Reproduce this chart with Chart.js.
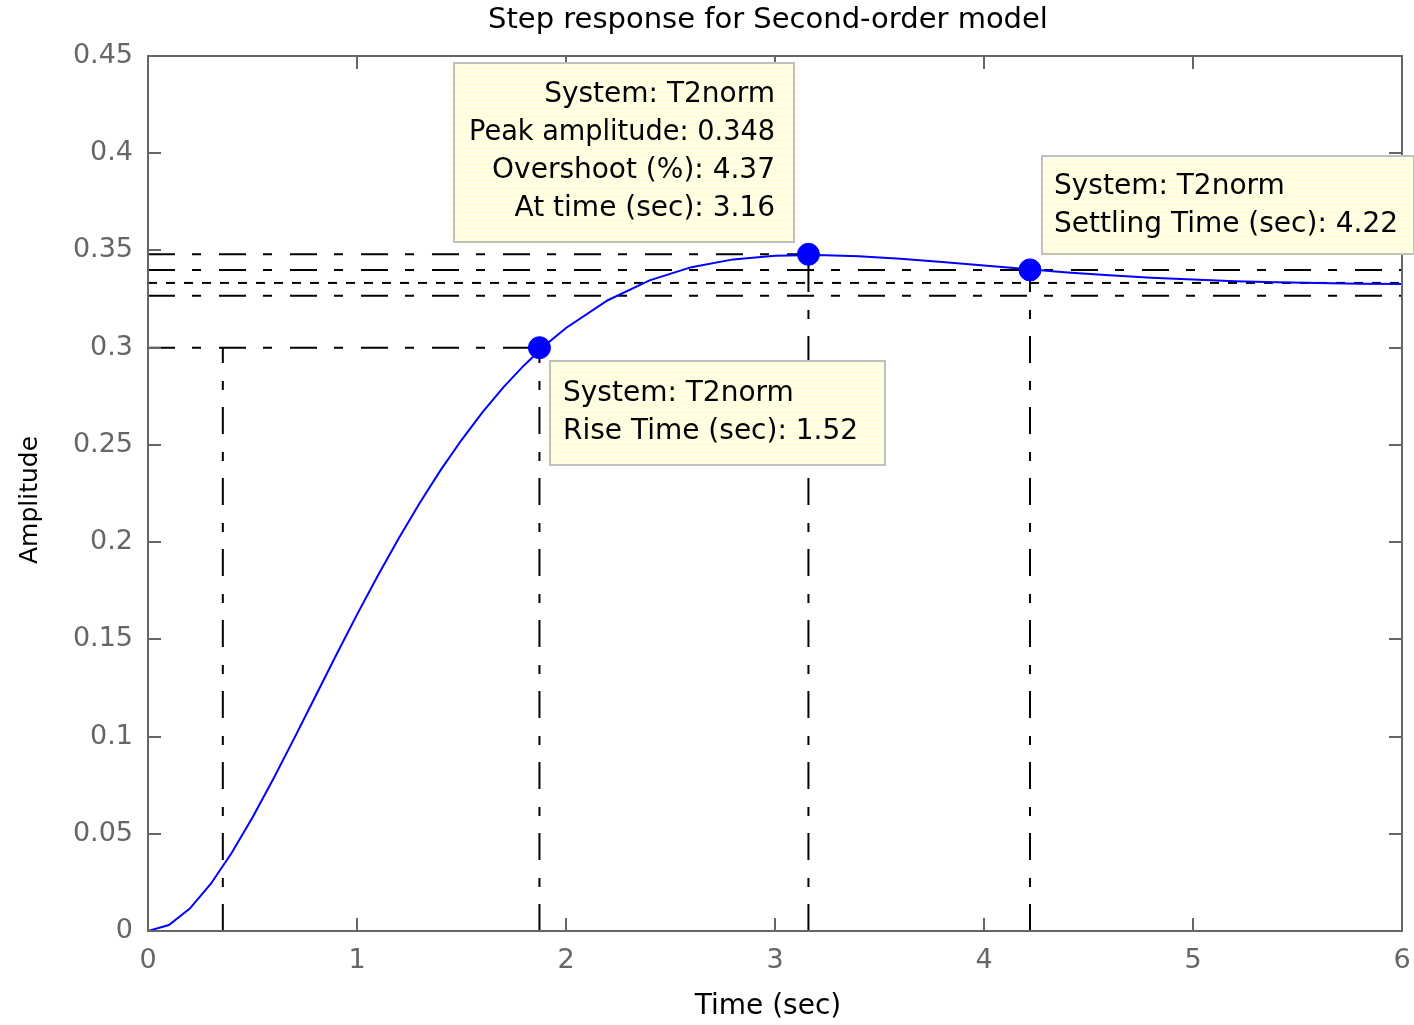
<!DOCTYPE html>
<html>
<head>
<meta charset="utf-8">
<title>Step response for Second-order model</title>
<script src="https://cdn.jsdelivr.net/npm/chart.js@4.4.0/dist/chart.umd.min.js"></script>
<style>
  html, body { margin: 0; padding: 0; background: #fff; }
  #stepChart { display: block; }
</style>
</head>
<body>
<canvas id="stepChart" width="1414" height="1025"></canvas>
<script>
// ---------- DATA ----------

// step response of T2norm
var timeSec = [0, 0.1, 0.2, 0.3, 0.4, 0.5, 0.6, 0.7, 0.8, 0.9, 1.0, 1.1, 1.2, 1.3, 1.4, 1.5, 1.6, 1.7, 1.8, 1.9,
  2.0, 2.2, 2.4, 2.6, 2.8, 3.0, 3.2, 3.4, 3.6, 3.8, 4.0, 4.2, 4.4, 4.6, 4.8, 5.0, 5.2, 5.4, 5.6, 5.8, 6.0];
var amplitude = [0, 0.0031, 0.0115, 0.0242, 0.0401, 0.0584, 0.0783, 0.0992, 0.1205, 0.1418, 0.1627, 0.1828, 0.2020,
  0.2201, 0.2370, 0.2525, 0.2667, 0.2796, 0.2910, 0.3012, 0.3101, 0.3244, 0.3346, 0.3414, 0.3454, 0.3473, 0.3477,
  0.3470, 0.3457, 0.3440, 0.3422, 0.3404, 0.3387, 0.3372, 0.3360, 0.3350, 0.3342, 0.3336, 0.3332, 0.3329, 0.3328];

// characteristic points: rise end, peak, settling
var markerTimes = [1.873, 3.16, 4.22];
var markerAmps = [0.3, 0.348, 0.34];

var riseStart = 0.358;        // 10% crossing
var finalValue = 0.3333;      // steady state
var settleBand = [0.3267, 0.34];

var xTicks = [0, 1, 2, 3, 4, 5, 6];
var xTickLabels = ['0', '1', '2', '3', '4', '5', '6'];
var yTicks = [0, 0.05, 0.1, 0.15, 0.2, 0.25, 0.3, 0.35, 0.4, 0.45];
var yTickLabels = ['0', '0.05', '0.1', '0.15', '0.2', '0.25', '0.3', '0.35', '0.4', '0.45'];

// ---------- STYLE ----------

var axisColor = '#666666';
var fontName = '"DejaVu Sans", Verdana, sans-serif';
var dashDot = [27, 17, 9, 18];

Chart.defaults.font.family = fontName;
Chart.defaults.font.size = 27;

function seg(x1, y1, x2, y2, dash) {
  return {
    type: 'line',
    data: [{ x: x1, y: y1 }, { x: x2, y: y2 }],
    borderColor: '#000000',
    borderWidth: 2,
    borderDash: dash,
    pointRadius: 0,
    fill: false
  };
}

var responsePoints = timeSec.map(function(t, i) { return { x: t, y: amplitude[i] }; });
var markerPoints = markerTimes.map(function(t, i) { return { x: t, y: markerAmps[i] }; });

var datasets = [
  {
    // markers drawn on top (first dataset is painted last)
    type: 'scatter',
    data: markerPoints,
    pointRadius: 11,
    pointBackgroundColor: '#0000ff',
    pointBorderColor: '#0000ff',
    showLine: false
  },
  {
    type: 'line',
    data: responsePoints,
    borderColor: '#0000ff',
    borderWidth: 2,
    pointRadius: 0,
    tension: 0,
    fill: false
  },
  // rise time
  seg(0, markerAmps[0], markerTimes[0], markerAmps[0], dashDot),
  seg(riseStart, 0, riseStart, markerAmps[0], dashDot),
  seg(markerTimes[0], 0, markerTimes[0], markerAmps[0], dashDot),
  // peak
  seg(0, markerAmps[1], markerTimes[1], markerAmps[1], dashDot),
  seg(markerTimes[1], 0, markerTimes[1], markerAmps[1], dashDot),
  // settling band
  seg(0, settleBand[1], 6, settleBand[1], dashDot),
  seg(0, settleBand[0], 6, settleBand[0], dashDot),
  seg(markerTimes[2], 0, markerTimes[2], markerAmps[2], dashDot),
  // steady state
  seg(0, finalValue, 6, finalValue, [9, 9])
];

// ---------- PLUGINS ----------

// box round the axes with inward ticks on all four sides
var framePlugin = {
  id: 'frame',
  afterDatasetsDraw: function(chart) {
    var ctx = chart.ctx, a = chart.chartArea;
    var xs = chart.scales.x, ys = chart.scales.y;
    var tickLen = 13;
    ctx.save();
    ctx.strokeStyle = axisColor;
    ctx.lineWidth = 2;
    ctx.strokeRect(a.left, a.top, a.right - a.left, a.bottom - a.top);
    ctx.beginPath();
    xTicks.forEach(function(v) {
      var px = Math.round(xs.getPixelForValue(v));
      ctx.moveTo(px, a.bottom); ctx.lineTo(px, a.bottom - tickLen);
      ctx.moveTo(px, a.top); ctx.lineTo(px, a.top + tickLen);
    });
    yTicks.forEach(function(v) {
      var py = Math.round(ys.getPixelForValue(v));
      ctx.moveTo(a.left, py); ctx.lineTo(a.left + tickLen, py);
      ctx.moveTo(a.right, py); ctx.lineTo(a.right - tickLen, py);
    });
    ctx.stroke();
    ctx.restore();
  }
};

// data tips, placed relative to their marker
var tips = [
  { at: 1, dx: -354, dy: -191, w: 340, h: 179, align: 'right', pad: 19, first: 32,
    lines: ['System: T2norm', 'Peak amplitude: 0.348', 'Overshoot (%): 4.37', 'At time (sec): 3.16'] },
  { at: 2, dx: 12, dy: -114, w: 372, h: 98, align: 'left', pad: 12, first: 31,
    lines: ['System: T2norm', 'Settling Time (sec): 4.22'] },
  { at: 0, dx: 11, dy: 13, w: 335, h: 104, align: 'left', pad: 13, first: 33,
    lines: ['System: T2norm', 'Rise Time (sec): 1.52'] }
];

var tipPlugin = {
  id: 'tips',
  afterDraw: function(chart) {
    var ctx = chart.ctx;
    var xs = chart.scales.x, ys = chart.scales.y;
    var pc = document.createElement('canvas');
    pc.width = 2; pc.height = 2;
    var p = pc.getContext('2d');
    p.fillStyle = '#ffffff'; p.fillRect(0, 0, 2, 2);
    p.fillStyle = '#ffffc4'; p.fillRect(0, 0, 1, 1); p.fillRect(1, 1, 1, 1);
    var fillPat = ctx.createPattern(pc, 'repeat');

    ctx.save();
    tips.forEach(function(tip) {
      var mx = Math.round(xs.getPixelForValue(markerTimes[tip.at]));
      var my = Math.round(ys.getPixelForValue(markerAmps[tip.at]));
      var left = mx + tip.dx, top = my + tip.dy;
      ctx.fillStyle = fillPat;
      ctx.fillRect(left, top, tip.w, tip.h);
      ctx.strokeStyle = '#c0c0c0';
      ctx.lineWidth = 2;
      ctx.strokeRect(left, top, tip.w, tip.h);
      ctx.fillStyle = '#000000';
      ctx.font = '28px ' + fontName;
      ctx.textBaseline = 'middle';
      ctx.textAlign = tip.align;
      var tx = tip.align === 'right' ? left + tip.w - tip.pad : left + tip.pad;
      tip.lines.forEach(function(line, i) {
        ctx.fillText(line, tx, top + tip.first + i * 38, tip.w - 2 * tip.pad + 4);
      });
    });
    ctx.restore();
  }
};

// title and axis labels
var labelPlugin = {
  id: 'labels',
  afterDraw: function(chart) {
    var ctx = chart.ctx;
    ctx.save();
    ctx.fillStyle = '#000000';
    ctx.textAlign = 'center';
    ctx.textBaseline = 'middle';
    ctx.font = '29px ' + fontName;
    ctx.fillText('Step response for Second-order model', 768, 20);
    ctx.font = '28px ' + fontName;
    ctx.fillText('Time (sec)', 768, 1007);
    ctx.font = '25px ' + fontName;
    ctx.translate(30, 500);
    ctx.rotate(-Math.PI / 2);
    ctx.fillText('Amplitude', 0, 0);
    ctx.restore();
  }
};

// ---------- CHART ----------

var stepChart = new Chart(document.getElementById('stepChart'), {
  data: { datasets: datasets },
  options: {
    responsive: false,
    animation: false,
    layout: { padding: { top: 56, right: 6, left: 0, bottom: 0 } },
    plugins: {
      legend: { display: false },
      tooltip: { enabled: false },
      title: { display: false }
    },
    scales: {
      x: {
        type: 'linear',
        min: 0,
        max: 6,
        afterFit: function(s) { s.height = 94; s.paddingLeft = 0; s.paddingRight = 0; },
        afterBuildTicks: function(s) { s.ticks = xTicks.map(function(v) { return { value: v }; }); },
        grid: { display: false, drawTicks: false },
        border: { display: false },
        ticks: {
          color: axisColor,
          padding: 14,
          maxRotation: 0,
          callback: function(v, i) { return xTickLabels[i]; }
        }
      },
      y: {
        type: 'linear',
        min: 0,
        max: 0.45,
        afterFit: function(s) { s.width = 148; s.paddingTop = 0; s.paddingBottom = 0; },
        afterBuildTicks: function(s) { s.ticks = yTicks.map(function(v) { return { value: v }; }); },
        grid: { display: false, drawTicks: false },
        border: { display: false },
        ticks: {
          color: axisColor,
          padding: 15,
          callback: function(v, i) { return yTickLabels[i]; }
        }
      }
    }
  },
  plugins: [framePlugin, tipPlugin, labelPlugin]
});
</script>
</body>
</html>
